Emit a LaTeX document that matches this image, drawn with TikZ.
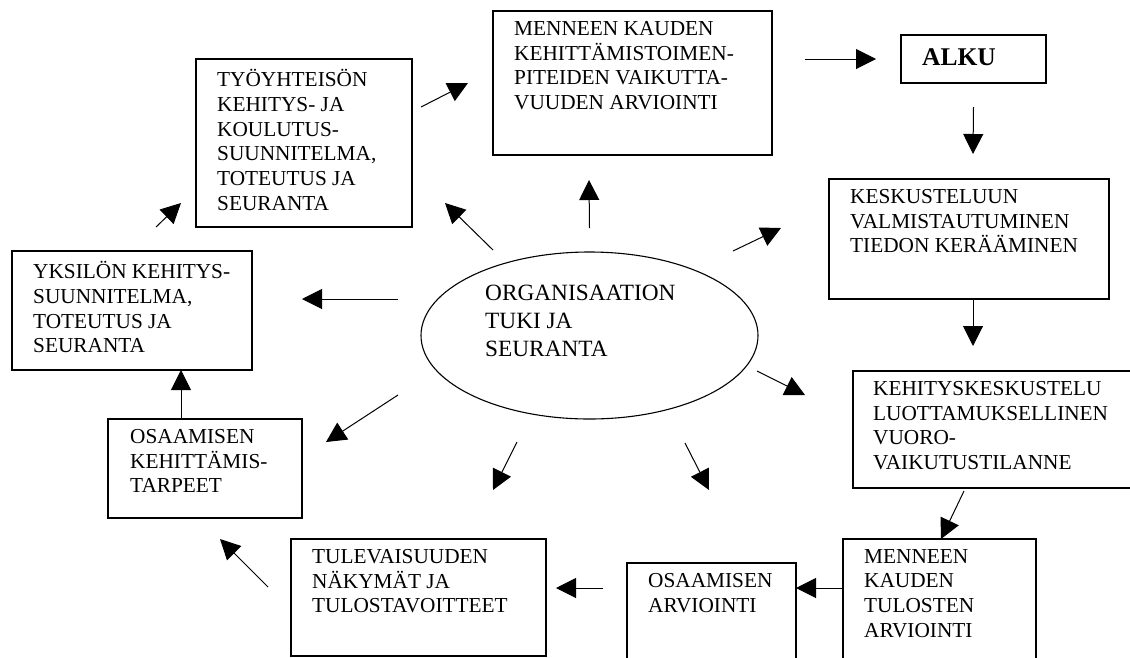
\documentclass[tikz,border=0pt]{standalone}
\usepackage{fontspec}
\setmainfont{Liberation Serif}
\usetikzlibrary{arrows.meta,shapes.geometric}

\newcommand{\boxfont}{\fontsize{21.3pt}{24.8pt}\selectfont}
\newcommand{\ovalfont}{\fontsize{23.3pt}{27.8pt}\selectfont}
\newcommand{\alkufont}{\fontsize{25.5pt}{30pt}\selectfont\bfseries}

\begin{document}
\begin{tikzpicture}[]
      \coordinate (origo) at (0mm,0mm);
      \clip (origo) rectangle ([xshift=1130pt,yshift=-657pt] origo);

      \tikzstyle{cell} = [
        rectangle,
        draw=black,
        line width=1.3pt,
        anchor=north west,
        inner sep=0pt,
        outer sep=0pt,
      ]
      \tikzstyle{celllabel} = [
        draw=none,
        anchor=north west,
        align=left,
        inner sep=0pt,
        font=\boxfont,
        execute at begin node={\rule{0pt}{20pt}}
      ]

      \tikzstyle{arrow} = [line width=1pt,->,>={Triangle[length=20pt,width=20pt]}, draw=black]

      % centre
      \node[ellipse,draw=black,line width=1.1pt,minimum width=337pt,minimum height=167pt,inner sep=0pt,outer sep=0pt] (orgTuki) at ([xshift=589.5pt,yshift=-335.5pt] origo) {};
      \node[celllabel,font=\ovalfont] (orgTukiLabel) at ([xshift=-104.5pt,yshift=50.5pt] orgTuki.center) {ORGANISAATION\\TUKI JA\\SEURANTA};

      % top row
      \node[cell,minimum width=279pt,minimum height=144pt] (vaikutBox) at ([xshift=493pt,yshift=-11pt] origo) {};
      \node[cell,minimum width=145pt,minimum height=48pt] (alkuBox) at ([xshift=901pt,yshift=-35pt] origo) {};
      \node[cell,minimum width=216pt,minimum height=168pt] (tyoBox) at ([xshift=196pt,yshift=-59pt] origo) {};
      \node[celllabel] (vaikutLabel) at ([xshift=21pt,yshift=-10pt] vaikutBox.north west) {MENNEEN KAUDEN\\KEHITTÄMISTOIMEN-\\PITEIDEN VAIKUTTA-\\VUUDEN ARVIOINTI};
      \node[celllabel,font=\alkufont] (alkuLabel) at ([xshift=21pt,yshift=-10pt] alkuBox.north west) {ALKU};
      \node[celllabel] (tyoLabel) at ([xshift=21pt,yshift=-10pt] tyoBox.north west) {TYÖYHTEISÖN\\KEHITYS- JA\\KOULUTUS-\\SUUNNITELMA,\\TOTEUTUS JA\\SEURANTA};

      % right side
      \node[cell,minimum width=280pt,minimum height=120pt] (valmistBox) at ([xshift=829pt,yshift=-179pt] origo) {};
      \node[cell,minimum width=290pt,minimum height=117pt] (kehkeskBox) at ([xshift=853pt,yshift=-371pt] origo) {};
      \node[celllabel] (valmistLabel) at ([xshift=21pt,yshift=-10pt] valmistBox.north west) {KESKUSTELUUN\\VALMISTAUTUMINEN\\TIEDON KERÄÄMINEN};
      \node[celllabel] (kehkeskLabel) at ([xshift=20pt,yshift=-10pt] kehkeskBox.north west) {KEHITYSKESKUSTELU\\LUOTTAMUKSELLINEN\\VUORO-\\VAIKUTUSTILANNE};

      % bottom row
      \node[cell,minimum width=193pt,minimum height=130pt] (tulosBox) at ([xshift=843pt,yshift=-539pt] origo) {};
      \node[cell,minimum width=169pt,minimum height=110pt] (osaArvBox) at ([xshift=627pt,yshift=-563pt] origo) {};
      \node[cell,minimum width=255pt,minimum height=117pt] (tulevBox) at ([xshift=291pt,yshift=-539pt] origo) {};
      \node[celllabel] (tulosLabel) at ([xshift=21pt,yshift=-10pt] tulosBox.north west) {MENNEEN\\KAUDEN\\TULOSTEN\\ARVIOINTI};
      \node[celllabel] (osaArvLabel) at ([xshift=21pt,yshift=-10pt] osaArvBox.north west) {OSAAMISEN\\ARVIOINTI};
      \node[celllabel] (tulevLabel) at ([xshift=21pt,yshift=-10pt] tulevBox.north west) {TULEVAISUUDEN\\NÄKYMÄT JA\\TULOSTAVOITTEET};

      % left side
      \node[cell,minimum width=194pt,minimum height=99pt] (osaKehBox) at ([xshift=108pt,yshift=-419pt] origo) {};
      \node[cell,minimum width=240pt,minimum height=119pt] (yksiloBox) at ([xshift=12pt,yshift=-251pt] origo) {};
      \node[celllabel] (osaKehLabel) at ([xshift=22pt,yshift=-10pt] osaKehBox.north west) {OSAAMISEN\\KEHITTÄMIS-\\TARPEET};
      \node[celllabel] (yksiloLabel) at ([xshift=21pt,yshift=-10pt] yksiloBox.north west) {YKSILÖN KEHITYS-\\SUUNNITELMA,\\TOTEUTUS JA\\SEURANTA};

      % cycle
      \draw[arrow] ([xshift=33pt,yshift=24pt] vaikutBox.east) -- ([xshift=-25pt] alkuBox.west);
      \draw[arrow] ([yshift=-24pt] alkuBox.south) -- ([xshift=4pt,yshift=25pt] valmistBox.north);
      \draw[arrow] ([xshift=4pt] valmistBox.south) -- ([xshift=-25pt,yshift=25pt] kehkeskBox.north);
      \draw[arrow] ([xshift=-34pt,yshift=-3pt] kehkeskBox.south) -- ([xshift=1.5pt] tulosBox.north);
      \draw[arrow] ([yshift=16pt] tulosBox.west) -- ([yshift=30pt] osaArvBox.east);
      \draw[arrow] ([xshift=-24pt,yshift=30pt] osaArvBox.west) -- ([xshift=10pt,yshift=9.5pt] tulevBox.east);
      \draw[arrow] ([xshift=-23pt,yshift=10.5pt] tulevBox.west) -- ([xshift=15pt,yshift=-21pt] osaKehBox.south);
      \draw[arrow] ([xshift=-24pt] osaKehBox.north) -- ([xshift=-24pt,yshift=49pt] osaKehBox.north);
      \draw[arrow] ([xshift=24pt,yshift=24pt] yksiloBox.north) -- ([xshift=-15pt,yshift=24pt] tyoBox.south west);
      \draw[arrow] ([xshift=9pt,yshift=36pt] tyoBox.east) -- ([xshift=-25pt] vaikutBox.west);

      % from centre
      \draw[arrow] ([yshift=24pt] orgTuki.north) -- ([xshift=-43.5pt,yshift=-25pt] vaikutBox.south);
      \draw[arrow] ([xshift=-96.5pt,yshift=2pt] orgTuki.north) -- ([xshift=33pt,yshift=24pt] tyoBox.south east);
      \draw[arrow] ([xshift=-23pt,yshift=36.5pt] orgTuki.west) -- ([xshift=50pt,yshift=11.5pt] yksiloBox.east);
      \draw[arrow] ([xshift=-23pt,yshift=-59.5pt] orgTuki.west) -- ([xshift=24pt,yshift=26.5pt] osaKehBox.east);
      \draw[arrow] ([xshift=-72.5pt,yshift=-23pt] orgTuki.south) -- ([xshift=74.5pt,yshift=49pt] tulevBox.north);
      \draw[arrow] ([xshift=95.5pt,yshift=-24pt] orgTuki.south) -- ([xshift=-2.5pt,yshift=73pt] osaArvBox.north);
      \draw[arrow] ([xshift=-1pt,yshift=-35.5pt] orgTuki.east) -- ([xshift=-48pt,yshift=34.5pt] kehkeskBox.west);
      \draw[arrow] ([xshift=-25pt,yshift=84.5pt] orgTuki.east) -- ([xshift=-48pt,yshift=11pt] valmistBox.west);
    \end{tikzpicture}
\end{document}
